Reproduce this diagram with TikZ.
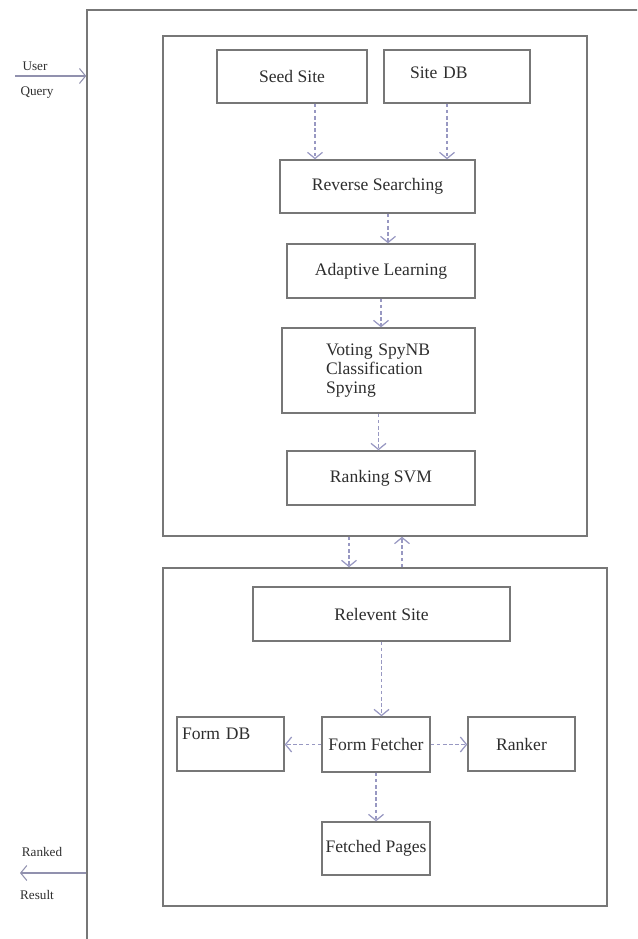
\documentclass[tikz,border=0pt]{standalone}
\usepackage{fontspec}
\setmainfont{Liberation Serif}
\usetikzlibrary{arrows.meta}
\definecolor{framegray}{HTML}{777777}
\definecolor{flowblue}{HTML}{9898C2}
\definecolor{inkgray}{HTML}{2E2E2E}

\begin{document}
\begin{tikzpicture}[x=0.02cm, y=-0.02cm,
    blk/.style={draw=framegray, line width=0.8pt, inner sep=0pt, text=inkgray,
      font=\fontsize{10}{11}\selectfont},
    frame/.style={draw=framegray, line width=0.9pt, inner sep=0pt},
    flow/.style={draw=flowblue, line width=0.7pt, dash pattern=on 2pt off 1.5pt,
      -{Straight Barb[length=3.5pt,width=8.5pt]}},
    io/.style={draw=flowblue!70!gray, line width=0.6pt,
      -{Straight Barb[length=3.5pt,width=8.5pt]}},
    iolbl/.style={font=\fontsize{7.5}{8}\selectfont, text=inkgray, inner sep=1pt}
  ]
  \useasboundingbox (0,0) rectangle (637,939);
  \clip (0,0) rectangle (637,939);

  % system frame, runs off the right and bottom edges
  \node[frame, minimum width=12.26cm, minimum height=19.8cm] (system) at (393.5,505) {};
  \node[frame, minimum width=8.48cm, minimum height=10cm] (upper) at (375,286) {};
  \node[frame, minimum width=8.88cm, minimum height=6.76cm] (lower) at (385,737) {};

  % plain boxes
  \foreach \id/\cx/\cy/\w/\h/\txt in {%
    seed/292/76.5/3.0/1.06/Seed Site,
    rev/377.5/186.5/3.9/1.06/Reverse Searching,
    adapt/381/271/3.76/1.08/Adaptive Learning,
    rank/381/478/3.76/1.08/Ranking SVM,
    relev/381.5/614/5.14/1.08/Relevent Site,
    fetcher/376/744.5/2.16/1.1/Form Fetcher,
    ranker/521.5/744/2.14/1.08/Ranker,
    fetched/376/848.5/2.16/1.06/Fetched Pages%
  }{
    \node[blk, minimum width=\w cm, minimum height=\h cm] (\id) at (\cx,\cy) {\txt};
  }
  \node[blk, minimum height=1.06cm, inner xsep=0.52cm, text width=1.88cm, align=left,
    text height=0.24cm, text depth=0.14cm] (sitedb) at (457,76.5) {Site DB};
  \node[blk, minimum height=1.7cm, inner xsep=0.88cm, text width=2.1cm, align=left]
    (vote) at (378.5,370.5) {Voting SpyNB\\Classification\\Spying};
  \node[blk, minimum height=1.08cm, inner xsep=0.1cm, text width=1.94cm, align=left,
    text height=0.24cm, text depth=0.44cm] (formdb) at (230.5,744) {Form DB};

  % crawler flow
  \draw[flow] ([xshift=0.46cm]seed.south) -- ([xshift=0.46cm]seed.south |- rev.north);
  \draw[flow] ([xshift=-0.2cm]sitedb.south) -- ([xshift=-0.2cm]sitedb.south |- rev.north);
  \draw[flow] ([xshift=0.21cm]rev.south) -- ([xshift=0.21cm]rev.south |- adapt.north);
  \draw[flow] (adapt.south) -- (adapt.south |- vote.north);
  \draw[flow] (vote.south) -- (vote.south |- rank.north);
  \draw[flow] ([xshift=-0.52cm]upper.south) -- ([xshift=-0.52cm]upper.south |- lower.north);
  \draw[flow] ([xshift=0.54cm]upper.south |- lower.north) -- ([xshift=0.54cm]upper.south);
  \draw[flow] (relev.south) -- (relev.south |- fetcher.north);
  \draw[flow] (fetcher.west) -- (fetcher.west -| formdb.east);
  \draw[flow] (fetcher.east) -- (fetcher.east -| ranker.west);
  \draw[flow] (fetcher.south) -- (fetched.north);

  % query in, results out
  \coordinate (qin) at (15,76);
  \draw[io] (qin) -- (qin -| system.west);
  \node[iolbl] (userlbl) at (35,66) {User};
  \node[iolbl] (querylbl) at (37,93) {Query};
  \coordinate (rout) at (20,873);
  \draw[io] (rout -| system.west) -- (rout);
  \node[iolbl] (rankedlbl) at (42,852) {Ranked};
  \node[iolbl] (resultlbl) at (37,895) {Result};
\end{tikzpicture}
\end{document}
